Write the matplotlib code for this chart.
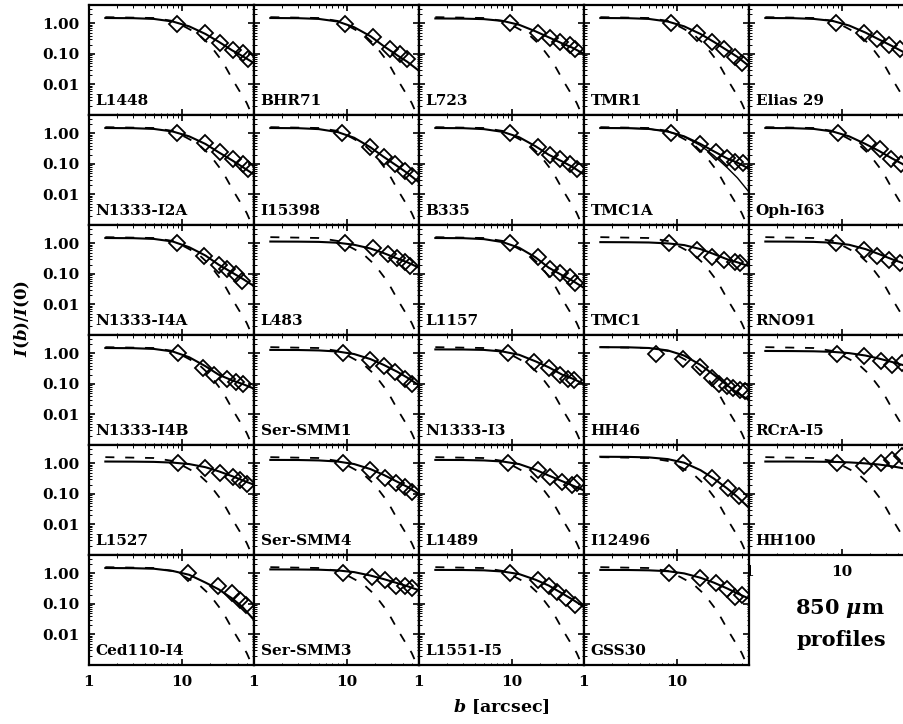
import matplotlib
matplotlib.use('Agg')
import matplotlib.pyplot as plt
from matplotlib.ticker import FixedLocator, LogLocator, NullFormatter, FixedFormatter

plt.rcParams['font.family'] = ['DejaVu Serif']
plt.rcParams['font.weight'] = 'bold'
plt.rcParams['mathtext.fontset'] = 'custom'
plt.rcParams['mathtext.it'] = 'DejaVu Serif:italic:bold'
plt.rcParams['mathtext.rm'] = 'DejaVu Serif:bold'

# ---------------- data ----------------
names = ['L1448', 'BHR71', 'L723', 'TMR1', 'Elias 29',
         'N1333-I2A', 'I15398', 'B335', 'TMC1A', 'Oph-I63',
         'N1333-I4A', 'L483', 'L1157', 'TMC1', 'RNO91',
         'N1333-I4B', 'Ser-SMM1', 'N1333-I3', 'HH46', 'RCrA-I5',
         'L1527', 'Ser-SMM4', 'L1489', 'I12496', 'HH100',
         'Ced110-I4', 'Ser-SMM3', 'L1551-I5', 'GSS30']

# beam profile (dashed)
beam_x = [1.5, 5, 8, 11, 15, 20, 26, 30, 36, 42, 50, 58]
beam_y = [1.6, 1.5, 1.2, 0.75, 0.45, 0.2, 0.07, 0.035, 0.013, 0.006, 0.0025, 0.0009]

# model radii (solid)
model_x = [1.5, 3, 5, 8, 12, 18, 25, 35, 45, 60]
model_y = [
    [1.5, 1.48, 1.4, 1.15, 0.8, 0.45, 0.25, 0.13, 0.085, 0.05],
    [1.5, 1.48, 1.4, 1.15, 0.75, 0.38, 0.18, 0.09, 0.055, 0.028],
    [1.45, 1.43, 1.38, 1.2, 0.9, 0.55, 0.35, 0.22, 0.16, 0.1],
    [1.5, 1.48, 1.4, 1.15, 0.8, 0.45, 0.25, 0.13, 0.08, 0.04],
    [1.5, 1.48, 1.4, 1.2, 0.85, 0.5, 0.3, 0.18, 0.12, 0.07],
    [1.5, 1.48, 1.4, 1.15, 0.8, 0.45, 0.24, 0.13, 0.08, 0.045],
    [1.5, 1.48, 1.38, 1.1, 0.72, 0.35, 0.17, 0.085, 0.05, 0.025],
    [1.5, 1.48, 1.38, 1.12, 0.75, 0.38, 0.2, 0.12, 0.08, 0.045],
    [1.5, 1.48, 1.4, 1.15, 0.8, 0.45, 0.26, 0.15, 0.11, 0.07],
    [1.5, 1.48, 1.4, 1.15, 0.8, 0.45, 0.27, 0.15, 0.1, 0.055],
    [1.5, 1.48, 1.4, 1.15, 0.75, 0.4, 0.2, 0.11, 0.07, 0.04],
    [1.15, 1.14, 1.12, 1.05, 0.9, 0.68, 0.48, 0.32, 0.24, 0.16],
    [1.5, 1.48, 1.38, 1.1, 0.72, 0.35, 0.16, 0.09, 0.06, 0.035],
    [1.1, 1.09, 1.07, 1.0, 0.88, 0.65, 0.45, 0.3, 0.24, 0.18],
    [1.15, 1.14, 1.12, 1.05, 0.9, 0.65, 0.45, 0.3, 0.23, 0.16],
    [1.5, 1.48, 1.4, 1.15, 0.75, 0.38, 0.2, 0.13, 0.1, 0.07],
    [1.3, 1.29, 1.25, 1.15, 0.95, 0.65, 0.42, 0.25, 0.16, 0.09],
    [1.35, 1.34, 1.3, 1.15, 0.9, 0.55, 0.35, 0.2, 0.15, 0.1],
    [1.6, 1.58, 1.5, 1.25, 0.85, 0.42, 0.2, 0.09, 0.05, 0.03],
    [1.2, 1.19, 1.17, 1.12, 1.02, 0.85, 0.68, 0.52, 0.42, 0.33],
    [1.15, 1.14, 1.12, 1.06, 0.95, 0.75, 0.55, 0.38, 0.28, 0.2],
    [1.3, 1.29, 1.25, 1.15, 0.95, 0.65, 0.42, 0.25, 0.17, 0.1],
    [1.3, 1.29, 1.25, 1.15, 0.95, 0.62, 0.4, 0.26, 0.19, 0.13],
    [1.65, 1.63, 1.57, 1.38, 1.05, 0.6, 0.32, 0.15, 0.08, 0.035],
    [1.15, 1.15, 1.14, 1.12, 1.08, 1.0, 0.92, 0.8, 0.7, 0.58],
    [1.5, 1.48, 1.42, 1.2, 0.9, 0.5, 0.3, 0.15, 0.08, 0.03],
    [1.35, 1.34, 1.32, 1.25, 1.1, 0.85, 0.65, 0.48, 0.38, 0.28],
    [1.3, 1.29, 1.26, 1.15, 0.95, 0.62, 0.4, 0.22, 0.14, 0.08],
    [1.3, 1.29, 1.26, 1.18, 1.0, 0.72, 0.5, 0.32, 0.22, 0.15],
]

# second (steeper) model drawn in the TMC1A panel
tmc1a_alt_y = [1.5, 1.48, 1.4, 1.15, 0.78, 0.4, 0.19, 0.075, 0.035, 0.012]

# observed profiles (diamonds)
data_x = [
    [8.9, 17.8, 25.8, 35.6, 45.7, 51.7],
    [9.5, 19, 29, 37, 45],
    [9.5, 19, 26, 33, 42, 48],
    [8.6, 16.5, 24, 32, 42, 50],
    [8.6, 17.5, 24, 32, 42],
    [8.9, 17.8, 25.8, 35.6, 45.7, 51.7],
    [8.9, 17.8, 25, 33, 42, 50],
    [9.5, 19, 26, 33, 42, 50],
    [8.6, 17.8, 26.5, 34.5, 42.4, 52],
    [9.2, 19, 26, 34, 43],
    [8.9, 17.5, 25, 31, 38, 44],
    [9.5, 19, 28, 35, 42, 48],
    [9.5, 19, 26, 33, 42, 48],
    [8.3, 16.5, 24, 32, 42, 48],
    [8.6, 17.5, 24, 32, 42],
    [9.0, 17, 22.5, 31, 38, 46],
    [9.2, 17.8, 25, 33, 42, 50],
    [9.0, 17.5, 25, 33, 40, 47],
    [5.9, 11.7, 17.8, 24, 28.5, 34.7, 40.3, 47.9, 54.3],
    [8.8, 17.3, 26.3, 34.5, 44.2],
    [9.0, 17.8, 25.8, 35.6, 42, 50],
    [9.2, 17.8, 26, 34, 42, 50],
    [9.0, 19, 26, 35, 45, 50],
    [11.8, 23.8, 35.4, 47.2],
    [8.8, 17.3, 26.3, 34.5, 44.2],
    [11.7, 24.6, 35, 42.4, 49],
    [9.2, 18.5, 26, 34, 42, 50],
    [9.5, 19, 25, 31, 38, 48],
    [8.3, 17.8, 26.5, 35, 42, 50],
]
data_y = [
    [0.95, 0.48, 0.23, 0.135, 0.107, 0.067],
    [0.95, 0.35, 0.15, 0.1, 0.07],
    [1.0, 0.5, 0.33, 0.25, 0.2, 0.15],
    [1.0, 0.5, 0.25, 0.15, 0.08, 0.05],
    [1.0, 0.5, 0.3, 0.2, 0.15],
    [1.0, 0.5, 0.25, 0.14, 0.1, 0.07],
    [1.0, 0.35, 0.17, 0.1, 0.06, 0.04],
    [1.0, 0.35, 0.2, 0.14, 0.1, 0.07],
    [1.0, 0.44, 0.24, 0.16, 0.12, 0.104],
    [1.0, 0.5, 0.3, 0.15, 0.1],
    [1.0, 0.4, 0.2, 0.15, 0.1, 0.06],
    [1.0, 0.7, 0.45, 0.33, 0.25, 0.18],
    [1.0, 0.35, 0.15, 0.11, 0.08, 0.05],
    [1.0, 0.6, 0.37, 0.28, 0.24, 0.22],
    [1.0, 0.6, 0.4, 0.28, 0.22],
    [1.0, 0.33, 0.19, 0.14, 0.12, 0.1],
    [1.0, 0.6, 0.38, 0.25, 0.15, 0.1],
    [1.0, 0.52, 0.33, 0.2, 0.15, 0.13],
    [0.95, 0.68, 0.37, 0.16, 0.096, 0.083, 0.071, 0.061, 0.057],
    [0.95, 0.82, 0.57, 0.42, 0.47],
    [1.0, 0.7, 0.48, 0.36, 0.28, 0.21],
    [1.0, 0.6, 0.33, 0.23, 0.17, 0.12],
    [1.0, 0.6, 0.36, 0.25, 0.19, 0.22],
    [1.05, 0.32, 0.16, 0.088],
    [1.0, 0.82, 1.05, 1.29, 1.74],
    [1.0, 0.4, 0.22, 0.13, 0.09],
    [1.0, 0.75, 0.6, 0.4, 0.4, 0.33],
    [1.0, 0.6, 0.4, 0.25, 0.16, 0.09],
    [1.0, 0.7, 0.48, 0.3, 0.17, 0.2],
]

y_ticks = [0.01, 0.1, 1.0]
y_ticklabels = ['0.01', '0.10', '1.00']
x_ticks = [1, 10]
x_ticklabels = ['1', '10']

# ---------------- figure ----------------
W, H = 904, 724
fig = plt.figure(figsize=(W / 100, H / 100), dpi=100)
left0, top0, pw, ph = 89, 5, 165, 110

for i, name in enumerate(names):
    r, c = divmod(i, 5)
    ax = fig.add_axes([(left0 + pw * c) / W, 1 - (top0 + ph * (r + 1)) / H, pw / W, ph / H])
    ax.set_xscale('log')
    ax.set_yscale('log')
    ax.plot(beam_x, beam_y, color='k', lw=1.3, ls=(0, (5, 6)))
    ax.plot(model_x, model_y[i], color='k', lw=1.5)
    if name == 'TMC1A':
        ax.plot(model_x, tmc1a_alt_y, color='k', lw=1.0)
    ax.plot(data_x[i], data_y[i], ls='none', marker='D', ms=7.8, mfc='none', mec='k', mew=1.3)
    ax.set_xlim(1, 60)
    ax.set_ylim(0.001, 4)
    ax.yaxis.set_major_locator(FixedLocator(y_ticks))
    ax.xaxis.set_major_locator(FixedLocator(x_ticks))
    ax.xaxis.set_minor_locator(LogLocator(base=10, subs=range(2, 10), numticks=10))
    ax.yaxis.set_minor_locator(LogLocator(base=10, subs=range(2, 10), numticks=10))
    ax.xaxis.set_minor_formatter(NullFormatter())
    ax.yaxis.set_minor_formatter(NullFormatter())
    if c == 0:
        ax.yaxis.set_major_formatter(FixedFormatter(y_ticklabels))
    else:
        ax.yaxis.set_major_formatter(NullFormatter())
    if r == 5 or i == 24:
        ax.xaxis.set_major_formatter(FixedFormatter(x_ticklabels))
    else:
        ax.xaxis.set_major_formatter(NullFormatter())
    ax.tick_params(which='both', direction='in', top=True, right=True, labelsize=11)
    ax.tick_params(which='major', length=4, width=1.2, pad=7)
    ax.tick_params(which='minor', length=1.8, width=0.7)
    for lab in ax.get_xticklabels() + ax.get_yticklabels():
        lab.set_fontweight('bold')
    for s in ax.spines.values():
        s.set_linewidth(1.6)
    ax.text(0.04, 0.06, name, transform=ax.transAxes, fontsize=11,
            fontweight='bold', ha='left', va='bottom')

fig.text(501 / W, 1 - 707 / H, r'$b$ [arcsec]', fontsize=12.5, fontweight='bold',
         ha='center', va='center')
fig.text(22 / W, 1 - 318 / H, r'$I$($b$)/$I$(0)', fontsize=12, fontweight='bold',
         ha='center', va='center', rotation=90)
fig.text(840 / W, 1 - 608 / H, r'850 $\mu$m', fontsize=15, fontweight='bold',
         ha='center', va='center')
fig.text(841 / W, 1 - 640 / H, 'profiles', fontsize=15, fontweight='bold',
         ha='center', va='center')

fig.savefig('out.png', dpi=100)
